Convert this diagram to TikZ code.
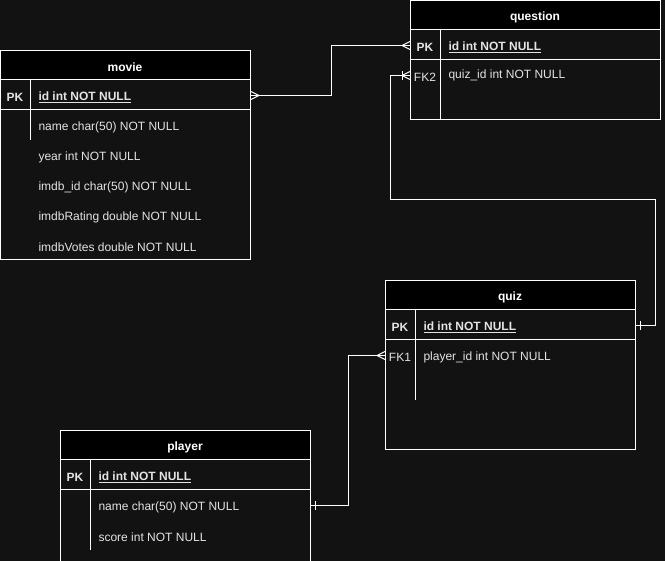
\documentclass[tikz,border=0pt]{standalone}
\usepackage{fontspec}
\setmainfont{Liberation Sans}
\definecolor{bg}{RGB}{18,18,18}
\definecolor{fg}{RGB}{228,228,228}
\begin{document}
\begin{tikzpicture}[x=1pt,y=-1pt,line width=1pt,
  frame/.style={draw=white,fill=bg},
  hdr/.style={draw=white,fill=black},
  rule/.style={draw=white},
  row/.style={minimum width=250pt,minimum height=30pt,inner sep=0pt,anchor=north west},
  ttl/.style={font=\fontsize{12}{14}\selectfont\bfseries,text=white,inner sep=0pt,yshift=-1.5pt},
  keyl/.style={font=\fontsize{12}{14}\selectfont\bfseries,text=fg,inner sep=0pt,yshift=-1.5pt},
  fkl/.style={font=\fontsize{12}{14}\selectfont,text=fg,inner sep=0pt,yshift=-1.5pt},
  fld/.style={font=\fontsize{12}{14}\selectfont,text=fg,anchor=west,inner sep=0pt,yshift=-1.5pt},
  pkf/.style={font=\fontsize{12}{14}\selectfont\bfseries,text=fg,anchor=west,inner sep=0pt,yshift=-1.5pt},
  conn/.style={draw=white}]
\useasboundingbox (0,0) rectangle (665,561);
\fill[bg] (0,0) rectangle (665,561);

% ---------- movie ----------
\draw[frame] (0.5,50.5) rectangle (250,260);
\draw[hdr] (0.5,50.5) rectangle (250,80);
\draw[rule] (0.5,110) -- (250,110);
\draw[rule] (30,80) -- (30,140);
\node[row] (m-id) at (0,80) {};
\node[row] (m-name) at (0,110) {};
\node[ttl] (m-t) at (125,65.5) {movie};
\node[keyl] (m-pk) at (15,95.5) {PK};
\node[pkf] (m-f1) at (38,95.5) {\underline{id int NOT NULL}};
\node[fld] (m-f2) at (38,125.5) {name char(50) NOT NULL};
\node[fld] (m-f3) at (38,155.5) {year int NOT NULL};
\node[fld] (m-f4) at (38,185.5) {imdb\_id char(50) NOT NULL};
\node[fld] (m-f5) at (38,215.5) {imdbRating double NOT NULL};
\node[fld] (m-f6) at (38,245.5) {imdbVotes double NOT NULL};

% ---------- question ----------
\draw[frame] (410.5,0.5) rectangle (660,120);
\draw[hdr] (410.5,0.5) rectangle (660,30);
\draw[rule] (410.5,60) -- (660,60);
\draw[rule] (440,30) -- (440,120);
\node[row] (q-id) at (410,30) {};
\node[row] (q-fk) at (410,60) {};
\node[ttl] (q-t) at (535,15.5) {question};
\node[keyl] (q-pk) at (425,45.5) {PK};
\node[fkl] (q-fk2) at (425,75.5) {FK2};
\node[pkf] (q-f1) at (448,45.5) {\underline{id int NOT NULL}};
\node[fld] (q-f2) at (448,73.5) {quiz\_id int NOT NULL};

% ---------- quiz ----------
\draw[frame] (385.5,280.5) rectangle (635,450);
\draw[hdr] (385.5,280.5) rectangle (635,310);
\draw[rule] (385.5,340) -- (635,340);
\draw[rule] (415,310) -- (415,400);
\node[row] (z-id) at (385,310) {};
\node[row] (z-fk) at (385,340) {};
\node[ttl] (z-t) at (510,295.5) {quiz};
\node[keyl] (z-pk) at (400,325.5) {PK};
\node[fkl] (z-fk1) at (400,355.5) {FK1};
\node[pkf] (z-f1) at (423,325.5) {\underline{id int NOT NULL}};
\node[fld] (z-f2) at (423,355.5) {player\_id int NOT NULL};

% ---------- player ----------
\draw[frame] (60.5,430.5) rectangle (310,565);
\draw[hdr] (60.5,430.5) rectangle (310,460);
\draw[rule] (60.5,490) -- (310,490);
\draw[rule] (90,460) -- (90,550);
\node[row] (p-id) at (60,460) {};
\node[row] (p-name) at (60,490) {};
\node[ttl] (p-t) at (185,445.5) {player};
\node[keyl] (p-pk) at (75,475.5) {PK};
\node[pkf] (p-f1) at (98,475.5) {\underline{id int NOT NULL}};
\node[fld] (p-f2) at (98,505.5) {name char(50) NOT NULL};
\node[fld] (p-f3) at (98,535.5) {score int NOT NULL};

% ---------- connectors ----------
\coordinate (c1) at (390,200);
\coordinate (c2) at (655,200);
\draw[conn] (m-id.east) -- ++(80,0) |- (q-id.west);
\draw[conn] (q-fk.west) -| (c1) -- (c2) |- (z-id.east);
\draw[conn] (z-fk.west) -- ++(-37,0) |- (p-name.east);

% crow's feet
\draw[conn] ([yshift=4pt]m-id.east) -- ([xshift=8pt]m-id.east) -- ([yshift=-4pt]m-id.east);
\draw[conn] ([yshift=4pt]q-id.west) -- ([xshift=-8pt]q-id.west) -- ([yshift=-4pt]q-id.west);
\draw[conn] ([yshift=4pt]q-fk.west) -- ([xshift=-8pt]q-fk.west) -- ([yshift=-4pt]q-fk.west);
\draw[conn] ([xshift=-8pt,yshift=4.5pt]q-fk.west) -- ([xshift=-8pt,yshift=-4.5pt]q-fk.west);
\draw[conn] ([yshift=4pt]z-fk.west) -- ([xshift=-8pt]z-fk.west) -- ([yshift=-4pt]z-fk.west);
\draw[conn] ([xshift=4pt,yshift=4.5pt]z-id.east) -- ([xshift=4pt,yshift=-4.5pt]z-id.east);
\draw[conn] ([xshift=4pt,yshift=4.5pt]p-name.east) -- ([xshift=4pt,yshift=-4.5pt]p-name.east);
\end{tikzpicture}
\end{document}
